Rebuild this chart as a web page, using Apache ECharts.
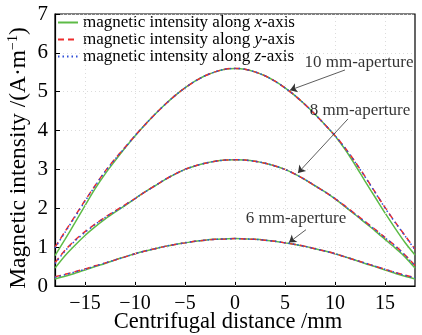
<!DOCTYPE html>
<html>
<head>
<meta charset="utf-8">
<script src="https://cdn.jsdelivr.net/npm/echarts@6/dist/echarts.min.js"></script>
<style>
  html, body { margin: 0; padding: 0; background: #fff; }
  #chart { width: 422px; height: 335px; }
</style>
</head>
<body>
<div id="chart"></div>
<script>
// centrifugal distance (mm)
const xs = [-18, -17, -16, -15, -14, -13, -12, -11, -10, -9, -8, -7, -6, -5, -4, -3, -2, -1, 0,
  1, 2, 3, 4, 5, 6, 7, 8, 9, 10, 11, 12, 13, 14, 15, 16, 17, 18]

// 10 mm aperture
const x10 = [0.78, 1.20, 1.63, 2.07, 2.50, 2.88, 3.22, 3.55, 3.86, 4.15, 4.42, 4.67, 4.90, 5.10, 5.27, 5.41, 5.51, 5.58, 5.60,
  5.58, 5.51, 5.41, 5.27, 5.10, 4.90, 4.67, 4.42, 4.15, 3.86, 3.52, 3.12, 2.70, 2.29, 1.88, 1.49, 1.12, 0.80]
const y10 = [1.00, 1.40, 1.80, 2.20, 2.58, 2.95, 3.27, 3.57, 3.87, 4.15, 4.42, 4.67, 4.90, 5.10, 5.27, 5.41, 5.51, 5.58, 5.60,
  5.58, 5.51, 5.41, 5.27, 5.10, 4.90, 4.67, 4.42, 4.15, 3.87, 3.56, 3.20, 2.82, 2.42, 2.02, 1.65, 1.30, 0.95]
const z10 = [0.98, 1.38, 1.78, 2.18, 2.57, 2.94, 3.26, 3.56, 3.87, 4.15, 4.42, 4.67, 4.90, 5.10, 5.27, 5.41, 5.51, 5.58, 5.60,
  5.58, 5.51, 5.41, 5.27, 5.10, 4.90, 4.67, 4.42, 4.15, 3.87, 3.55, 3.19, 2.81, 2.41, 2.01, 1.64, 1.29, 0.93]

// 8 mm aperture
const x8 = [0.46, 0.78, 1.05, 1.30, 1.52, 1.72, 1.90, 2.07, 2.25, 2.42, 2.58, 2.74, 2.88, 3.00, 3.09, 3.16, 3.21, 3.24, 3.25,
  3.24, 3.21, 3.16, 3.09, 3.00, 2.88, 2.74, 2.58, 2.42, 2.24, 2.04, 1.84, 1.63, 1.42, 1.20, 0.98, 0.75, 0.46]
const y8 = [0.60, 0.92, 1.18, 1.40, 1.59, 1.77, 1.93, 2.09, 2.25, 2.42, 2.58, 2.74, 2.88, 3.00, 3.09, 3.16, 3.21, 3.24, 3.25,
  3.24, 3.21, 3.16, 3.09, 3.00, 2.88, 2.74, 2.58, 2.42, 2.25, 2.06, 1.86, 1.66, 1.46, 1.25, 1.04, 0.80, 0.53]
const z8 = [0.58, 0.90, 1.16, 1.38, 1.58, 1.76, 1.92, 2.08, 2.25, 2.42, 2.58, 2.74, 2.88, 3.00, 3.09, 3.16, 3.21, 3.24, 3.25,
  3.24, 3.21, 3.16, 3.09, 3.00, 2.88, 2.74, 2.58, 2.42, 2.25, 2.05, 1.85, 1.65, 1.45, 1.24, 1.03, 0.79, 0.52]

// 6 mm aperture
const x6 = [0.18, 0.25, 0.33, 0.41, 0.50, 0.58, 0.67, 0.75, 0.83, 0.90, 0.96, 1.02, 1.07, 1.11, 1.15, 1.18, 1.20, 1.21, 1.22,
  1.21, 1.20, 1.18, 1.15, 1.11, 1.07, 1.02, 0.96, 0.90, 0.83, 0.75, 0.67, 0.58, 0.50, 0.41, 0.33, 0.25, 0.18]
const y6 = [0.24, 0.30, 0.37, 0.44, 0.52, 0.59, 0.67, 0.75, 0.83, 0.90, 0.96, 1.02, 1.07, 1.11, 1.15, 1.18, 1.20, 1.21, 1.22,
  1.21, 1.20, 1.18, 1.15, 1.11, 1.07, 1.02, 0.96, 0.90, 0.83, 0.75, 0.67, 0.59, 0.51, 0.43, 0.35, 0.28, 0.22]
const z6 = [0.22, 0.29, 0.36, 0.43, 0.51, 0.59, 0.67, 0.75, 0.83, 0.90, 0.96, 1.02, 1.07, 1.11, 1.15, 1.18, 1.20, 1.21, 1.22,
  1.21, 1.20, 1.18, 1.15, 1.11, 1.07, 1.02, 0.96, 0.90, 0.83, 0.75, 0.67, 0.59, 0.51, 0.43, 0.35, 0.27, 0.21]

const xTicks = [-15, -10, -5, 0, 5, 10, 15]
const seriesNames = ['magnetic intensity along x-axis', 'magnetic intensity along y-axis', 'magnetic intensity along z-axis']
const axisLetters = ['x', 'y', 'z']

// annotations (data coords)
const annoText = ['10 mm-aperture', '8 mm-aperture', '6 mm-aperture']
const annoPos = [[12.4, 5.74], [12.5, 4.52], [6.1, 1.74]]
const arrowFrom = [[11.0, 5.56], [11.3, 4.30], [7.1, 1.45]]
const arrowTo = [[5.5, 5.04], [6.3, 2.91], [5.4, 1.12]]

const FONT = 'Liberation Serif'
const colors = ['#5dbb46', '#ee2c2c', '#2f4fd8']
const dashes = ['solid', [6, 4], [1.5, 3]]

function pairs(vals) {
  return xs.map((x, i) => [x, vals[i]])
}

function curve(idx, vals, extra) {
  return Object.assign({
    type: 'line',
    name: seriesNames[idx],
    data: pairs(vals),
    smooth: 0.3,
    symbol: 'none',
    color: colors[idx],
    lineStyle: { color: colors[idx], width: 1.5, type: dashes[idx] },
    z: 3 + idx,
    silent: true
  }, extra || {})
}

const chart = echarts.init(document.getElementById('chart'), null, { renderer: 'canvas' })

chart.setOption({
  animation: false,
  backgroundColor: '#fff',
  grid: {
    left: 55, right: 7, top: 14, bottom: 49,
    outerBoundsMode: 'none',
    containLabel: false,
    show: true, borderColor: '#000', borderWidth: 1.2
  },
  legend: {
    data: seriesNames,
    orient: 'vertical',
    left: 57,
    top: 14,
    padding: 0,
    itemWidth: 20,
    itemHeight: 10,
    itemGap: 0,
    itemStyle: { opacity: 0 },
    formatter: name => {
      const i = seriesNames.indexOf(name)
      return '{n|magnetic intensity along }{i|' + axisLetters[i] + '}{n|-axis}'
    },
    textStyle: {
      color: '#000',
      fontFamily: FONT,
      fontSize: 17,
      lineHeight: 17,
      rich: {
        n: { fontFamily: FONT, fontSize: 17, color: '#000' },
        i: { fontFamily: FONT, fontSize: 17, fontStyle: 'italic', color: '#000' }
      }
    }
  },
  xAxis: {
    type: 'value',
    min: -18,
    max: 18,
    name: 'Centrifugal distance /mm',
    nameLocation: 'middle',
    nameGap: 25,
    nameMoveOverlap: false,
    nameTextStyle: { fontFamily: FONT, fontSize: 22.5, color: '#000', padding: [0, 14, 0, 0] },
    axisLine: { onZero: false, lineStyle: { color: '#000', width: 1.2 } },
    axisTick: { inside: true, length: 5, customValues: xTicks, lineStyle: { color: '#000' } },
    axisLabel: {
      customValues: xTicks,
      margin: 8,
      fontFamily: FONT,
      fontSize: 20,
      color: '#000',
      formatter: v => String(v).replace('-', '\u2212')
    },
    splitLine: { show: false }
  },
  yAxis: {
    type: 'value',
    min: 0,
    max: 7,
    interval: 1,
    name: '{n|Magnetic intensity /(A\u00b7m}{s|\u22121}{n|)}',
    nameLocation: 'middle',
    nameGap: 23,
    nameMoveOverlap: false,
    nameRotate: 90,
    nameTextStyle: {
      fontFamily: FONT,
      fontSize: 23.5,
      color: '#000',
      padding: [0, 16, 0, 0],
      rich: {
        n: { fontFamily: FONT, fontSize: 23.5, color: '#000', lineHeight: 26 },
        s: { fontFamily: FONT, fontSize: 14, color: '#000', verticalAlign: 'top', lineHeight: 26 }
      }
    },
    axisLine: { show: true, onZero: false, lineStyle: { color: '#000', width: 1.2 } },
    axisTick: { inside: true, length: 5, lineStyle: { color: '#000' } },
    axisLabel: { margin: 7, fontFamily: FONT, fontSize: 21, color: '#000' },
    splitLine: { show: true, lineStyle: { color: '#dcdcdc', type: [1, 3], width: 1 } }
  },
  series: [
    curve(0, x10, {
      markLine: {
        silent: true,
        symbol: 'none',
        label: { show: false },
        lineStyle: { color: '#dcdcdc', type: [1, 3], width: 1 },
        data: xTicks.map(v => ({ xAxis: v }))
      }
    }),
    curve(1, y10),
    curve(2, z10),
    curve(0, x8),
    curve(1, y8),
    curve(2, z8),
    curve(0, x6),
    curve(1, y6),
    curve(2, z6),
    {
      type: 'lines',
      name: 'arrows',
      coordinateSystem: 'cartesian2d',
      silent: true,
      symbol: ['none', 'arrow'],
      symbolSize: 7,
      lineStyle: { color: '#333', width: 0.8, opacity: 1 },
      z: 8,
      data: arrowFrom.map((f, i) => ({ coords: [f, arrowTo[i]] }))
    },
    {
      type: 'scatter',
      name: 'labels',
      silent: true,
      symbolSize: 0,
      z: 9,
      label: {
        show: true,
        position: 'inside',
        formatter: '{b}',
        fontFamily: FONT,
        fontSize: 17,
        color: '#000'
      },
      data: annoText.map((t, i) => ({ name: t, value: annoPos[i] }))
    }
  ]
})
</script>
</body>
</html>
